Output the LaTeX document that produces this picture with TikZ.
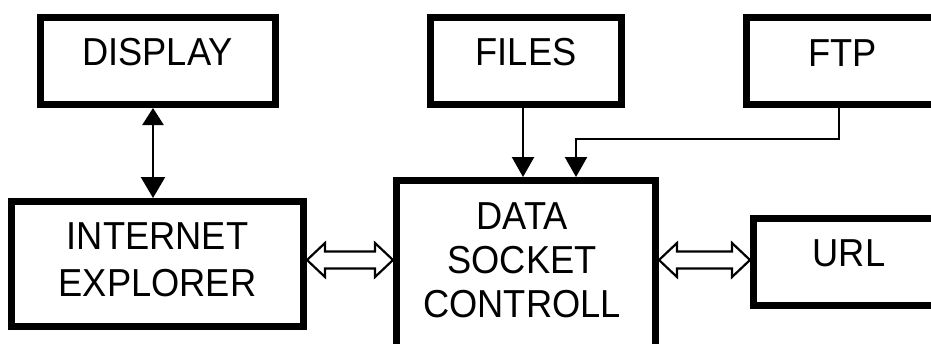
\documentclass[tikz,border=0pt]{standalone}
\usepackage{fontspec}
\setmainfont[FakeStretch=0.93]{Liberation Sans}
\usetikzlibrary{arrows.meta,calc}
\newcommand\hollowdbl[2]{%
  \draw[hollow] (#1) -- ($(#1)+(18,-17)$) -- ($(#1)+(18,-8.5)$) -- ($(#2)+(-18,-8.5)$)
    -- ($(#2)+(-18,-17)$) -- (#2) -- ($(#2)+(-18,17)$) -- ($(#2)+(-18,8.5)$)
    -- ($(#1)+(18,8.5)$) -- ($(#1)+(18,17)$) -- cycle;}
\begin{document}
\begin{tikzpicture}[x=1pt,y=-1pt,
  box/.style={draw, line width=7pt, rectangle, inner sep=0pt},
  lbl/.style={font=\fontsize{39}{44}\selectfont, align=center, inner sep=0pt},
  conn/.style={line width=2.4pt, -{Triangle[length=20pt,width=22pt]}},
  biconn/.style={line width=2.4pt, {Triangle[length=17pt,width=21pt]}-{Triangle[length=21pt,width=24pt]}},
  hollow/.style={draw, line width=2.2pt, fill=white, line join=miter}]
\useasboundingbox (0,0) rectangle (931,343);
\clip (0,0) rectangle (931,343);
\fill[white] (0,0) rectangle (931,343);
% boxes
\node[box, minimum width=235pt, minimum height=87pt] (display) at (158,61) {};
\node[box, minimum width=191pt, minimum height=87pt] (files) at (526,61) {};
\node[box, minimum width=233.5pt, minimum height=87pt] (ftp) at (863.25,61) {};
\node[box, minimum width=292pt, minimum height=125pt] (ie) at (157.5,264) {};
\node[box, minimum width=259pt, minimum height=199.5pt] (dsc) at (526,280.25) {};
\node[box, minimum width=226.5pt, minimum height=87pt] (url) at (866.75,262) {};
% texts
\node[lbl] (displaytxt) at (157.5,52.5) {DISPLAY};
\node[lbl] (filestxt) at (526,52.5) {FILES};
\node[lbl] (ftptxt) at (842.5,53) {FTP};
\node[lbl, font=\fontsize{39}{47}\selectfont] (ietxt) at (157.5,260) {INTERNET\\EXPLORER};
\node[lbl] (dsctxt) at (522,260) {DATA\\SOCKET\\CONTROLL};
\node[lbl] (urltxt) at (849,253.5) {URL};
% connectors
\draw[biconn] ([xshift=-5pt]display.south) -- ([xshift=-4.5pt]ie.north);
\draw[conn] ([xshift=-3pt]files.south) -- ([xshift=-3pt]files.south |- dsc.north);
\draw[conn] ([xshift=96pt]ftp.south west) -- ++(0,31) -| ([xshift=183pt]dsc.north west);
\coordinate (l1) at ([yshift=4pt]ie.east);
\coordinate (r1) at (dsc.west |- l1);
\coordinate (r2) at ([yshift=2pt]url.west);
\coordinate (l2) at (dsc.east |- r2);
\hollowdbl{l1}{r1}
\hollowdbl{l2}{r2}
\end{tikzpicture}
\end{document}
